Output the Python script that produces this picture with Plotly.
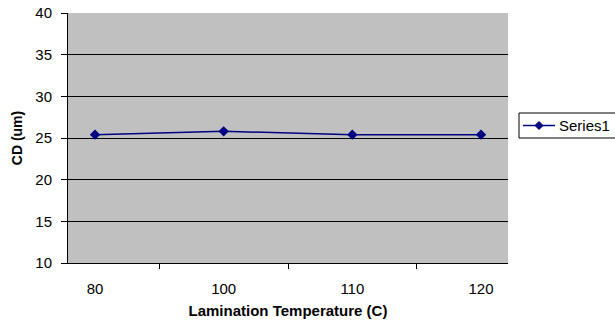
import plotly.graph_objects as go

categories = ["80", "100", "110", "120"]
cd_values = [25.4, 25.8, 25.4, 25.4]
y_ticks = [10, 15, 20, 25, 30, 35, 40]
series_name = "Series1"

FONT = "Liberation Sans, Arial, sans-serif"
NAVY = "#000080"

# plot area in pixels: x 68..508, y 13..263
PL, PR, PT, PB = 68, 508, 13, 263
def px_x(p):
    return (p - PL) / (PR - PL)
def px_y(p):
    return (PB - p) / (PB - PT)

fig = go.Figure()
fig.add_trace(go.Scatter(
    x=categories, y=cd_values, mode="lines+markers", name=series_name,
    line=dict(color=NAVY, width=1.5),
    marker=dict(symbol="diamond", size=8, color=NAVY),
    showlegend=False,
))

# manual legend (box, sample line, diamond, label)
ly = 125.5
cx = 539
shapes = [
    dict(type="rect", xref="paper", yref="paper",
         x0=px_x(519), x1=px_x(660), y0=px_y(138), y1=px_y(113),
         line=dict(color="black", width=1), fillcolor="white", layer="above"),
    dict(type="line", xref="paper", yref="paper",
         x0=px_x(523), x1=px_x(555), y0=px_y(ly), y1=px_y(ly),
         line=dict(color=NAVY, width=1.5), layer="above"),
    dict(type="path", xref="paper", yref="paper",
         path=(f"M {px_x(cx-4)},{px_y(ly)} L {px_x(cx)},{px_y(ly-4)} "
               f"L {px_x(cx+4)},{px_y(ly)} L {px_x(cx)},{px_y(ly+4)} Z"),
         line=dict(color=NAVY, width=1), fillcolor=NAVY, layer="above"),
]
annotations = [
    dict(text=series_name, xref="paper", yref="paper",
         x=px_x(557), y=px_y(ly), xanchor="left", yanchor="middle",
         showarrow=False, font=dict(family=FONT, size=15, color="black")),
]

fig.update_layout(
    width=615, height=330,
    margin=dict(l=PL, r=615 - PR, t=PT, b=330 - PB, autoexpand=False),
    paper_bgcolor="white", plot_bgcolor="#C0C0C0",
    font=dict(family=FONT, size=15, color="black"),
    showlegend=False,
    shapes=shapes, annotations=annotations,
    xaxis=dict(
        type="category", tickson="boundaries", ticks="outside", ticklen=5,
        tickcolor="black", showline=True, linecolor="black", linewidth=1,
        showgrid=False, zeroline=False,
        ticklabelstandoff=12,
        tickfont=dict(family=FONT, size=15),
        title=dict(text="<b>Lamination Temperature (C)</b>", standoff=9,
                   font=dict(family=FONT, size=15)),
    ),
    yaxis=dict(
        range=[10, 40], tickvals=y_ticks, ticks="outside", ticklen=6,
        tickcolor="black", showline=True, linecolor="black", linewidth=1,
        showgrid=True, gridcolor="black", gridwidth=1, zeroline=False,
        ticklabelstandoff=6,
        tickfont=dict(family=FONT, size=15),
        title=dict(text="<b>CD (um)</b>", standoff=9,
                   font=dict(family=FONT, size=14)),
    ),
)

fig.write_html("out.html")
